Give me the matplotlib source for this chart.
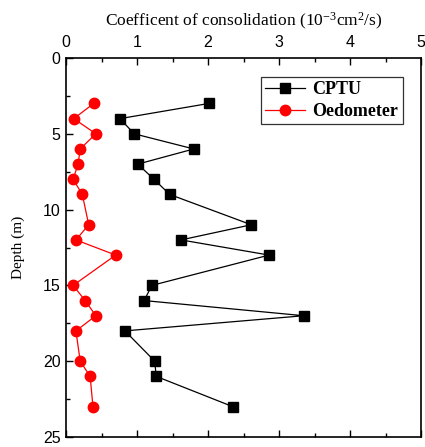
import numpy as np
import matplotlib
matplotlib.use('Agg')
import matplotlib.pyplot as plt
from matplotlib.ticker import MultipleLocator

depth_cptu = [3, 4, 5, 6, 7, 8, 9, 11, 12, 13, 15, 16, 17, 18, 20, 21, 23]
cv_cptu = [2.01, 0.76, 0.96, 1.80, 1.01, 1.24, 1.46, 2.61, 1.62, 2.86, 1.21, 1.10, 3.35, 0.83, 1.25, 1.27, 2.35]

depth_oedo = [3, 4, 5, 6, 7, 8, 9, 11, 12, 13, 15, 16, 17, 18, 20, 21, 23]
cv_oedo = [0.39, 0.11, 0.42, 0.20, 0.17, 0.10, 0.23, 0.32, 0.14, 0.70, 0.10, 0.27, 0.42, 0.14, 0.20, 0.34, 0.38]

x_ticks = [0, 1, 2, 3, 4, 5]
y_ticks = [0, 5, 10, 15, 20, 25]

serif = ['Liberation Serif', 'DejaVu Serif']
sans = ['Liberation Sans', 'DejaVu Sans']
plt.rcParams['mathtext.fontset'] = 'custom'
plt.rcParams['mathtext.rm'] = 'Liberation Serif'
plt.rcParams['mathtext.it'] = 'Liberation Serif:italic'

fig = plt.figure(figsize=(4.25, 4.47), dpi=100)
ax = fig.add_axes([66/425, 10/447, 355/425, 379/447])

ax.plot(cv_cptu, depth_cptu, color='black', lw=0.9, marker='s', ms=6.5, label='CPTU')
ax.plot(cv_oedo, depth_oedo, color='red', lw=0.9, marker='o', ms=7.5, label='Oedometer')

ax.set_xlim(0, 5)
ax.set_ylim(25, 0)
ax.xaxis.tick_top()
ax.xaxis.set_label_position('top')
ax.set_xticks(x_ticks)
ax.set_yticks(y_ticks)
ax.xaxis.set_minor_locator(MultipleLocator(0.5))
ax.yaxis.set_minor_locator(MultipleLocator(2.5))
ax.tick_params(which='both', direction='in', top=True, bottom=True, left=True, right=False,
               labelsize=11.5, width=1)
ax.tick_params(which='major', length=5)
ax.tick_params(which='minor', length=3)
ax.tick_params(axis='x', pad=6)
ax.tick_params(axis='y', pad=4)
for lab in ax.get_xticklabels() + ax.get_yticklabels():
    lab.set_family(sans)
for sp in ax.spines.values():
    sp.set_linewidth(1.2)

ax.set_xlabel(r'Coefficent of consolidation (10$^{\mathrm{-3}}$cm$^{\mathrm{2}}$/s)', family=serif, fontsize=12.5, labelpad=6)
ax.set_ylabel('Depth (m)', family=serif, fontsize=11, labelpad=13)

leg = ax.legend(loc='upper right', bbox_to_anchor=(0.948, 0.95), prop={'family': serif, 'weight': 'bold', 'size': 13},
                frameon=True, fancybox=False, edgecolor='black', handlelength=2.2,
                borderpad=0.25, labelspacing=0.25, handletextpad=0.4, borderaxespad=0)
leg.get_frame().set_linewidth(0.9)

fig.savefig('out.png', dpi=100)
